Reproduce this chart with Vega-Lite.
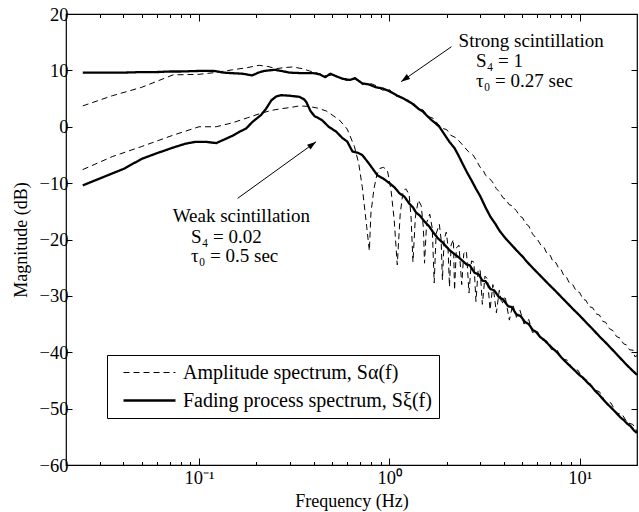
{
  "$schema": "https://vega.github.io/schema/vega-lite/v6.json",
  "width": 571,
  "height": 451,
  "autosize": {"type": "none"},
  "padding": {"left": 66, "top": 14, "right": 2, "bottom": 47},
  "background": "white",
  "config": {
    "font": "Liberation Serif",
    "view": {"stroke": "black", "strokeWidth": 1.2},
    "axis": {"domain": false, "grid": false, "labelFont": "Liberation Serif", "labelFontSize": 18.5, "labelColor": "black", "tickColor": "black", "tickWidth": 1, "titleFont": "Liberation Serif", "titleFontSize": 18, "titleFontWeight": "normal", "titleColor": "black", "labelOverlap": false, "labelFlush": false},
    "legend": {"labelFont": "Liberation Serif", "labelFontSize": 20, "labelColor": "black"}
  },
  "datasets": {
    "curves": [
      {"s":"SF","t":"F","f":0.0245,"v":9.6},{"s":"SF","t":"F","f":0.03,"v":9.6},{"s":"SF","t":"F","f":0.04,"v":9.6},{"s":"SF","t":"F","f":0.05,"v":9.7},{"s":"SF","t":"F","f":0.06,"v":9.7},{"s":"SF","t":"F","f":0.07,"v":9.8},{"s":"SF","t":"F","f":0.08,"v":9.8},{"s":"SF","t":"F","f":0.1,"v":9.9},{"s":"SF","t":"F","f":0.12,"v":9.9},{"s":"SF","t":"F","f":0.135,"v":9.6},{"s":"SF","t":"F","f":0.15,"v":9.5},{"s":"SF","t":"F","f":0.17,"v":9.4},{"s":"SF","t":"F","f":0.19,"v":9.1},{"s":"SF","t":"F","f":0.205,"v":9.6},{"s":"SF","t":"F","f":0.22,"v":9.9},{"s":"SF","t":"F","f":0.25,"v":10.1},{"s":"SF","t":"F","f":0.27,"v":9.9},{"s":"SF","t":"F","f":0.3,"v":9.6},{"s":"SF","t":"F","f":0.35,"v":9.5},{"s":"SF","t":"F","f":0.4,"v":9.5},{"s":"SF","t":"F","f":0.43,"v":9.3},{"s":"SF","t":"F","f":0.46,"v":8.8},{"s":"SF","t":"F","f":0.49,"v":9.4},{"s":"SF","t":"F","f":0.53,"v":8.9},{"s":"SF","t":"F","f":0.57,"v":8.5},{"s":"SF","t":"F","f":0.62,"v":8.3},{"s":"SF","t":"F","f":0.66,"v":8.6},{"s":"SF","t":"F","f":0.72,"v":7.7},{"s":"SF","t":"F","f":0.78,"v":7.5},{"s":"SF","t":"F","f":0.85,"v":7.0},{"s":"SF","t":"F","f":0.92,"v":6.8},{"s":"SF","t":"F","f":1.0,"v":6.3},{"s":"SF","t":"F","f":1.09,"v":5.6},{"s":"SF","t":"F","f":1.17,"v":5.1},{"s":"SF","t":"F","f":1.25,"v":4.6},{"s":"SF","t":"F","f":1.32,"v":4.1},{"s":"SF","t":"F","f":1.42,"v":3.2},{"s":"SF","t":"F","f":1.5,"v":2.7},{"s":"SF","t":"F","f":1.56,"v":2.1},{"s":"SF","t":"F","f":1.65,"v":1.3},{"s":"SF","t":"F","f":1.75,"v":0.6},{"s":"SF","t":"F","f":1.83,"v":0.0},{"s":"SF","t":"F","f":1.95,"v":-1.4},{"s":"SF","t":"F","f":2.07,"v":-2.7},{"s":"SF","t":"F","f":2.2,"v":-3.8},{"s":"SF","t":"F","f":2.3,"v":-5.0},{"s":"SF","t":"F","f":2.42,"v":-6.5},{"s":"SF","t":"F","f":2.55,"v":-8.0},{"s":"SF","t":"F","f":2.7,"v":-9.5},{"s":"SF","t":"F","f":2.85,"v":-11.0},{"s":"SF","t":"F","f":3.0,"v":-12.3},{"s":"SF","t":"F","f":3.2,"v":-14.3},{"s":"SF","t":"F","f":3.4,"v":-16.0},{"s":"SF","t":"F","f":3.6,"v":-17.2},{"s":"SF","t":"F","f":3.8,"v":-18.5},{"s":"SF","t":"F","f":4.1,"v":-19.9},{"s":"SF","t":"F","f":4.4,"v":-21.0},{"s":"SF","t":"F","f":4.65,"v":-21.9},{"s":"SF","t":"F","f":5.0,"v":-23.0},{"s":"SF","t":"F","f":5.3,"v":-24.0},{"s":"SF","t":"F","f":5.65,"v":-25.0},{"s":"SF","t":"F","f":6.0,"v":-25.9},{"s":"SF","t":"F","f":6.5,"v":-27.1},{"s":"SF","t":"F","f":6.9,"v":-28.0},{"s":"SF","t":"F","f":7.5,"v":-29.2},{"s":"SF","t":"F","f":8.0,"v":-30.2},{"s":"SF","t":"F","f":8.5,"v":-31.1},{"s":"SF","t":"F","f":9.2,"v":-32.3},{"s":"SF","t":"F","f":10,"v":-33.5},{"s":"SF","t":"F","f":10.8,"v":-34.7},{"s":"SF","t":"F","f":11.7,"v":-35.9},{"s":"SF","t":"F","f":12.7,"v":-37.2},{"s":"SF","t":"F","f":13.7,"v":-38.3},{"s":"SF","t":"F","f":15,"v":-39.7},{"s":"SF","t":"F","f":16.3,"v":-41.0},{"s":"SF","t":"F","f":17.6,"v":-42.2},{"s":"SF","t":"F","f":19,"v":-43.3},{"s":"SF","t":"F","f":20,"v":-44.0},

      {"s":"SA","t":"A","f":0.0245,"v":3.7},{"s":"SA","t":"A","f":0.035,"v":5.5},{"s":"SA","t":"A","f":0.05,"v":7.0},{"s":"SA","t":"A","f":0.073,"v":9.2},{"s":"SA","t":"A","f":0.1,"v":9.3},{"s":"SA","t":"A","f":0.12,"v":9.6},{"s":"SA","t":"A","f":0.15,"v":10.1},{"s":"SA","t":"A","f":0.18,"v":10.5},{"s":"SA","t":"A","f":0.207,"v":10.9},{"s":"SA","t":"A","f":0.23,"v":10.7},{"s":"SA","t":"A","f":0.254,"v":10.3},{"s":"SA","t":"A","f":0.28,"v":10.5},{"s":"SA","t":"A","f":0.31,"v":10.6},{"s":"SA","t":"A","f":0.35,"v":10.3},{"s":"SA","t":"A","f":0.38,"v":9.9},{"s":"SA","t":"A","f":0.42,"v":9.5},{"s":"SA","t":"A","f":0.466,"v":9.0},{"s":"SA","t":"A","f":0.5,"v":9.2},{"s":"SA","t":"A","f":0.55,"v":8.7},{"s":"SA","t":"A","f":0.6,"v":8.2},{"s":"SA","t":"A","f":0.66,"v":8.7},{"s":"SA","t":"A","f":0.72,"v":7.5},{"s":"SA","t":"A","f":0.78,"v":7.8},{"s":"SA","t":"A","f":0.85,"v":7.3},{"s":"SA","t":"A","f":0.92,"v":6.5},{"s":"SA","t":"A","f":1.0,"v":6.6},{"s":"SA","t":"A","f":1.09,"v":5.4},{"s":"SA","t":"A","f":1.17,"v":5.2},{"s":"SA","t":"A","f":1.25,"v":4.4},{"s":"SA","t":"A","f":1.32,"v":4.4},{"s":"SA","t":"A","f":1.42,"v":3.3},{"s":"SA","t":"A","f":1.5,"v":3.0},{"s":"SA","t":"A","f":1.6,"v":1.8},{"s":"SA","t":"A","f":1.7,"v":1.5},{"s":"SA","t":"A","f":1.8,"v":0.5},{"s":"SA","t":"A","f":1.9,"v":-0.3},{"s":"SA","t":"A","f":2.0,"v":-0.5},{"s":"SA","t":"A","f":2.1,"v":-1.5},{"s":"SA","t":"A","f":2.25,"v":-2.0},{"s":"SA","t":"A","f":2.42,"v":-3.2},{"s":"SA","t":"A","f":2.6,"v":-4.4},{"s":"SA","t":"A","f":2.75,"v":-5.0},{"s":"SA","t":"A","f":2.86,"v":-5.9},{"s":"SA","t":"A","f":3.0,"v":-7.2},{"s":"SA","t":"A","f":3.1,"v":-7.6},{"s":"SA","t":"A","f":3.2,"v":-8.6},{"s":"SA","t":"A","f":3.3,"v":-8.9},{"s":"SA","t":"A","f":3.48,"v":-9.8},{"s":"SA","t":"A","f":3.65,"v":-11.0},{"s":"SA","t":"A","f":3.8,"v":-11.6},{"s":"SA","t":"A","f":3.95,"v":-12.6},{"s":"SA","t":"A","f":4.1,"v":-12.9},{"s":"SA","t":"A","f":4.25,"v":-13.8},{"s":"SA","t":"A","f":4.4,"v":-14.0},{"s":"SA","t":"A","f":4.65,"v":-14.9},{"s":"SA","t":"A","f":4.85,"v":-15.9},{"s":"SA","t":"A","f":5.0,"v":-16.1},{"s":"SA","t":"A","f":5.2,"v":-17.2},{"s":"SA","t":"A","f":5.4,"v":-17.6},{"s":"SA","t":"A","f":5.65,"v":-19.0},{"s":"SA","t":"A","f":5.85,"v":-19.6},{"s":"SA","t":"A","f":6.0,"v":-20.0},{"s":"SA","t":"A","f":6.25,"v":-21.0},{"s":"SA","t":"A","f":6.5,"v":-21.4},{"s":"SA","t":"A","f":6.75,"v":-22.6},{"s":"SA","t":"A","f":7.0,"v":-22.8},{"s":"SA","t":"A","f":7.25,"v":-24.0},{"s":"SA","t":"A","f":7.5,"v":-24.1},{"s":"SA","t":"A","f":7.8,"v":-25.3},{"s":"SA","t":"A","f":8.0,"v":-25.4},{"s":"SA","t":"A","f":8.25,"v":-26.4},{"s":"SA","t":"A","f":8.5,"v":-26.6},{"s":"SA","t":"A","f":8.85,"v":-27.8},{"s":"SA","t":"A","f":9.2,"v":-28.0},{"s":"SA","t":"A","f":9.6,"v":-29.2},{"s":"SA","t":"A","f":10,"v":-29.4},{"s":"SA","t":"A","f":10.4,"v":-30.6},{"s":"SA","t":"A","f":10.8,"v":-30.8},{"s":"SA","t":"A","f":11.2,"v":-31.9},{"s":"SA","t":"A","f":11.7,"v":-32.1},{"s":"SA","t":"A","f":12.2,"v":-33.2},{"s":"SA","t":"A","f":12.7,"v":-33.4},{"s":"SA","t":"A","f":13.2,"v":-34.5},{"s":"SA","t":"A","f":13.7,"v":-34.7},{"s":"SA","t":"A","f":14.3,"v":-35.8},{"s":"SA","t":"A","f":15,"v":-36.2},{"s":"SA","t":"A","f":15.6,"v":-37.2},{"s":"SA","t":"A","f":16.3,"v":-37.5},{"s":"SA","t":"A","f":17,"v":-38.5},{"s":"SA","t":"A","f":17.6,"v":-38.7},{"s":"SA","t":"A","f":18.3,"v":-39.6},{"s":"SA","t":"A","f":19,"v":-39.6},{"s":"SA","t":"A","f":19.5,"v":-40.8},{"s":"SA","t":"A","f":20,"v":-40.6},

      {"s":"WF","t":"F","f":0.0245,"v":-10.4},{"s":"WF","t":"F","f":0.03,"v":-9.2},{"s":"WF","t":"F","f":0.04,"v":-7.5},{"s":"WF","t":"F","f":0.05,"v":-5.7},{"s":"WF","t":"F","f":0.06,"v":-4.7},{"s":"WF","t":"F","f":0.073,"v":-3.7},{"s":"WF","t":"F","f":0.085,"v":-3.0},{"s":"WF","t":"F","f":0.095,"v":-2.7},{"s":"WF","t":"F","f":0.11,"v":-2.7},{"s":"WF","t":"F","f":0.123,"v":-2.9},{"s":"WF","t":"F","f":0.135,"v":-2.3},{"s":"WF","t":"F","f":0.15,"v":-1.6},{"s":"WF","t":"F","f":0.163,"v":-0.9},{"s":"WF","t":"F","f":0.177,"v":-0.3},{"s":"WF","t":"F","f":0.19,"v":0.8},{"s":"WF","t":"F","f":0.212,"v":2.1},{"s":"WF","t":"F","f":0.225,"v":3.2},{"s":"WF","t":"F","f":0.24,"v":4.7},{"s":"WF","t":"F","f":0.255,"v":5.4},{"s":"WF","t":"F","f":0.27,"v":5.6},{"s":"WF","t":"F","f":0.3,"v":5.5},{"s":"WF","t":"F","f":0.337,"v":5.3},{"s":"WF","t":"F","f":0.355,"v":4.9},{"s":"WF","t":"F","f":0.366,"v":4.4},{"s":"WF","t":"F","f":0.385,"v":2.8},{"s":"WF","t":"F","f":0.404,"v":1.9},{"s":"WF","t":"F","f":0.425,"v":1.5},{"s":"WF","t":"F","f":0.445,"v":1.1},{"s":"WF","t":"F","f":0.48,"v":0.0},{"s":"WF","t":"F","f":0.527,"v":-0.9},{"s":"WF","t":"F","f":0.566,"v":-2.0},{"s":"WF","t":"F","f":0.6,"v":-2.6},{"s":"WF","t":"F","f":0.64,"v":-4.4},{"s":"WF","t":"F","f":0.68,"v":-4.6},{"s":"WF","t":"F","f":0.72,"v":-5.0},{"s":"WF","t":"F","f":0.78,"v":-6.5},{"s":"WF","t":"F","f":0.865,"v":-8.6},{"s":"WF","t":"F","f":0.93,"v":-9.2},{"s":"WF","t":"F","f":1.0,"v":-10.0},{"s":"WF","t":"F","f":1.06,"v":-10.7},{"s":"WF","t":"F","f":1.13,"v":-11.8},{"s":"WF","t":"F","f":1.2,"v":-12.4},{"s":"WF","t":"F","f":1.27,"v":-13.6},{"s":"WF","t":"F","f":1.33,"v":-14.3},{"s":"WF","t":"F","f":1.38,"v":-15.2},{"s":"WF","t":"F","f":1.45,"v":-15.8},{"s":"WF","t":"F","f":1.52,"v":-16.7},{"s":"WF","t":"F","f":1.62,"v":-17.7},{"s":"WF","t":"F","f":1.69,"v":-18.6},{"s":"WF","t":"F","f":1.8,"v":-19.8},{"s":"WF","t":"F","f":1.9,"v":-20.5},{"s":"WF","t":"F","f":2.07,"v":-21.9},{"s":"WF","t":"F","f":2.3,"v":-23.1},{"s":"WF","t":"F","f":2.54,"v":-24.4},{"s":"WF","t":"F","f":2.65,"v":-24.6},{"s":"WF","t":"F","f":2.8,"v":-25.9},{"s":"WF","t":"F","f":2.95,"v":-26.2},{"s":"WF","t":"F","f":3.08,"v":-27.3},{"s":"WF","t":"F","f":3.2,"v":-27.4},{"s":"WF","t":"F","f":3.4,"v":-28.8},{"s":"WF","t":"F","f":3.55,"v":-29.0},{"s":"WF","t":"F","f":3.78,"v":-30.3},{"s":"WF","t":"F","f":3.95,"v":-30.6},{"s":"WF","t":"F","f":4.2,"v":-31.8},{"s":"WF","t":"F","f":4.4,"v":-32.0},{"s":"WF","t":"F","f":4.65,"v":-33.3},{"s":"WF","t":"F","f":4.9,"v":-33.6},{"s":"WF","t":"F","f":5.15,"v":-34.6},{"s":"WF","t":"F","f":5.4,"v":-35.0},{"s":"WF","t":"F","f":5.65,"v":-36.0},{"s":"WF","t":"F","f":5.9,"v":-36.4},{"s":"WF","t":"F","f":6.2,"v":-37.3},{"s":"WF","t":"F","f":6.5,"v":-37.8},{"s":"WF","t":"F","f":6.9,"v":-38.7},{"s":"WF","t":"F","f":7.2,"v":-39.3},{"s":"WF","t":"F","f":7.6,"v":-40.0},{"s":"WF","t":"F","f":8.0,"v":-40.9},{"s":"WF","t":"F","f":8.5,"v":-41.8},{"s":"WF","t":"F","f":9.0,"v":-42.6},{"s":"WF","t":"F","f":9.4,"v":-43.2},{"s":"WF","t":"F","f":10,"v":-44.1},{"s":"WF","t":"F","f":10.4,"v":-44.5},{"s":"WF","t":"F","f":11,"v":-45.4},{"s":"WF","t":"F","f":11.5,"v":-46.0},{"s":"WF","t":"F","f":12.1,"v":-46.9},{"s":"WF","t":"F","f":12.7,"v":-47.6},{"s":"WF","t":"F","f":13.3,"v":-48.4},{"s":"WF","t":"F","f":14,"v":-49.2},{"s":"WF","t":"F","f":14.8,"v":-50.0},{"s":"WF","t":"F","f":15.5,"v":-50.7},{"s":"WF","t":"F","f":16.3,"v":-51.5},{"s":"WF","t":"F","f":17,"v":-52.0},{"s":"WF","t":"F","f":17.8,"v":-52.7},{"s":"WF","t":"F","f":18.5,"v":-53.1},{"s":"WF","t":"F","f":19.3,"v":-53.9},{"s":"WF","t":"F","f":20,"v":-54.3},

      {"s":"WA","t":"A","f":0.0245,"v":-7.6},{"s":"WA","t":"A","f":0.035,"v":-5.3},{"s":"WA","t":"A","f":0.05,"v":-3.5},{"s":"WA","t":"A","f":0.073,"v":-1.5},{"s":"WA","t":"A","f":0.1,"v":0.0},{"s":"WA","t":"A","f":0.123,"v":0.0},{"s":"WA","t":"A","f":0.15,"v":0.7},{"s":"WA","t":"A","f":0.18,"v":1.6},{"s":"WA","t":"A","f":0.212,"v":2.4},{"s":"WA","t":"A","f":0.24,"v":2.9},{"s":"WA","t":"A","f":0.27,"v":3.2},{"s":"WA","t":"A","f":0.3,"v":3.4},{"s":"WA","t":"A","f":0.337,"v":3.7},{"s":"WA","t":"A","f":0.38,"v":3.6},{"s":"WA","t":"A","f":0.42,"v":3.3},{"s":"WA","t":"A","f":0.466,"v":2.8},{"s":"WA","t":"A","f":0.5,"v":2.1},{"s":"WA","t":"A","f":0.546,"v":1.2},{"s":"WA","t":"A","f":0.6,"v":-0.4},{"s":"WA","t":"A","f":0.655,"v":-3.5},{"s":"WA","t":"A","f":0.69,"v":-6.5},{"s":"WA","t":"A","f":0.72,"v":-10.6},{"s":"WA","t":"A","f":0.76,"v":-17.7},{"s":"WA","t":"A","f":0.785,"v":-22.0},{"s":"WA","t":"A","f":0.8,"v":-15.3},{"s":"WA","t":"A","f":0.83,"v":-11.0},{"s":"WA","t":"A","f":0.86,"v":-8.5},{"s":"WA","t":"A","f":0.89,"v":-7.4},{"s":"WA","t":"A","f":0.93,"v":-7.2},{"s":"WA","t":"A","f":0.976,"v":-7.7},{"s":"WA","t":"A","f":1.02,"v":-11.2},{"s":"WA","t":"A","f":1.06,"v":-16.5},{"s":"WA","t":"A","f":1.1,"v":-24.5},{"s":"WA","t":"A","f":1.14,"v":-15.5},{"s":"WA","t":"A","f":1.18,"v":-11.5},{"s":"WA","t":"A","f":1.22,"v":-11.0},{"s":"WA","t":"A","f":1.27,"v":-12.0},{"s":"WA","t":"A","f":1.3,"v":-16.0},{"s":"WA","t":"A","f":1.33,"v":-24.0},{"s":"WA","t":"A","f":1.37,"v":-16.0},{"s":"WA","t":"A","f":1.42,"v":-13.0},{"s":"WA","t":"A","f":1.47,"v":-14.0},{"s":"WA","t":"A","f":1.51,"v":-18.0},{"s":"WA","t":"A","f":1.53,"v":-24.2},{"s":"WA","t":"A","f":1.57,"v":-17.0},{"s":"WA","t":"A","f":1.63,"v":-15.5},{"s":"WA","t":"A","f":1.68,"v":-18.0},{"s":"WA","t":"A","f":1.72,"v":-27.7},{"s":"WA","t":"A","f":1.76,"v":-19.0},{"s":"WA","t":"A","f":1.83,"v":-17.3},{"s":"WA","t":"A","f":1.87,"v":-20.0},{"s":"WA","t":"A","f":1.9,"v":-27.2},{"s":"WA","t":"A","f":1.94,"v":-20.0},{"s":"WA","t":"A","f":1.99,"v":-18.7},{"s":"WA","t":"A","f":2.03,"v":-21.0},{"s":"WA","t":"A","f":2.07,"v":-28.4},{"s":"WA","t":"A","f":2.11,"v":-21.0},{"s":"WA","t":"A","f":2.17,"v":-20.0},{"s":"WA","t":"A","f":2.2,"v":-29.0},{"s":"WA","t":"A","f":2.25,"v":-21.5},{"s":"WA","t":"A","f":2.32,"v":-21.0},{"s":"WA","t":"A","f":2.4,"v":-28.0},{"s":"WA","t":"A","f":2.46,"v":-22.5},{"s":"WA","t":"A","f":2.54,"v":-22.0},{"s":"WA","t":"A","f":2.62,"v":-29.5},{"s":"WA","t":"A","f":2.7,"v":-23.8},{"s":"WA","t":"A","f":2.78,"v":-24.0},{"s":"WA","t":"A","f":2.85,"v":-31.0},{"s":"WA","t":"A","f":2.93,"v":-25.2},{"s":"WA","t":"A","f":3.0,"v":-25.5},{"s":"WA","t":"A","f":3.08,"v":-31.5},{"s":"WA","t":"A","f":3.18,"v":-26.5},{"s":"WA","t":"A","f":3.28,"v":-27.0},{"s":"WA","t":"A","f":3.38,"v":-32.5},{"s":"WA","t":"A","f":3.5,"v":-28.0},{"s":"WA","t":"A","f":3.65,"v":-33.0},{"s":"WA","t":"A","f":3.78,"v":-29.0},{"s":"WA","t":"A","f":3.9,"v":-31.5},{"s":"WA","t":"A","f":4.05,"v":-30.0},{"s":"WA","t":"A","f":4.27,"v":-34.3},{"s":"WA","t":"A","f":4.45,"v":-31.5},{"s":"WA","t":"A","f":4.65,"v":-33.8},{"s":"WA","t":"A","f":4.85,"v":-32.5},{"s":"WA","t":"A","f":5.1,"v":-35.0},{"s":"WA","t":"A","f":5.4,"v":-34.2},{"s":"WA","t":"A","f":5.65,"v":-36.5},{"s":"WA","t":"A","f":6.0,"v":-36.3},{"s":"WA","t":"A","f":6.3,"v":-37.8},{"s":"WA","t":"A","f":6.7,"v":-38.0},{"s":"WA","t":"A","f":7.1,"v":-39.5},{"s":"WA","t":"A","f":7.6,"v":-39.6},{"s":"WA","t":"A","f":8.1,"v":-41.2},{"s":"WA","t":"A","f":8.6,"v":-41.4},{"s":"WA","t":"A","f":9.2,"v":-43.0},{"s":"WA","t":"A","f":9.8,"v":-43.2},{"s":"WA","t":"A","f":10.4,"v":-44.8},{"s":"WA","t":"A","f":11.1,"v":-45.0},{"s":"WA","t":"A","f":11.8,"v":-46.6},{"s":"WA","t":"A","f":12.7,"v":-47.0},{"s":"WA","t":"A","f":13.6,"v":-48.7},{"s":"WA","t":"A","f":14.6,"v":-49.0},{"s":"WA","t":"A","f":15.6,"v":-50.8},{"s":"WA","t":"A","f":16.7,"v":-51.0},{"s":"WA","t":"A","f":17.8,"v":-52.5},{"s":"WA","t":"A","f":19,"v":-52.8},{"s":"WA","t":"A","f":20,"v":-54.0}
    ],
    "notes": [
      {"f": 2.31, "v": 14.18, "txt": "Strong scintillation"},
      {"f": 2.855, "v": 10.64, "txt": "S₄ = 1"},
      {"f": 2.855, "v": 7.09, "txt": "τ₀ = 0.27 sec"},
      {"f": 0.0727, "v": -16.84, "txt": "Weak scintillation"},
      {"f": 0.0908, "v": -20.57, "txt": "S₄ = 0.02"},
      {"f": 0.0908, "v": -24.0, "txt": "τ₀ = 0.5 sec"}
    ],
    "arrows": [
      {"id": "strong", "f": 2.12, "v": 14.2, "f2": 1.152, "v2": 8.0},
      {"id": "weak", "f": 0.1595, "v": -12.7, "f2": 0.412, "v2": -2.66}
    ]
  },
  "layer": [
    {
      "data": {"name": "curves"},
      "mark": {"type": "line", "color": "black", "strokeJoin": "round"},
      "encoding": {
        "x": {"field": "f", "type": "quantitative", "scale": {"type": "log", "domain": [0.02, 20], "nice": false},
          "axis": {"orient": "bottom", "values": [0.03,0.04,0.05,0.06,0.07,0.08,0.09,0.1,0.2,0.3,0.4,0.5,0.6,0.7,0.8,0.9,1,2,3,4,5,6,7,8,9,10],
            "labelExpr": "datum.value == 0.1 ? '10⁻¹' : datum.value == 1 ? '10⁰' : datum.value == 10 ? '10¹' : ''",
            "tickSize": {"condition": {"test": "datum.value == 0.1 || datum.value == 1 || datum.value == 10", "value": -7}, "value": -3.5},
            "labelPadding": 10, "title": "Frequency (Hz)", "titleX": 285.5, "titleY": 41, "titleBaseline": "alphabetic", "titleAlign": "center"}},
        "y": {"field": "v", "type": "quantitative", "scale": {"domain": [-60, 20], "nice": false},
          "axis": {"orient": "left", "values": [-60,-50,-40,-30,-20,-10,0,10,20], "tickSize": -6, "labelPadding": 4,
            "title": "Magnitude (dB)", "titleX": -40, "titleY": 225.5, "titleBaseline": "alphabetic", "titleAlign": "center", "titleAngle": -90}},
        "detail": {"field": "s", "type": "nominal"},
        "strokeDash": {"field": "t", "type": "nominal", "scale": {"domain": ["A", "F"], "range": [[6, 4], [1, 0]]},
          "legend": {"title": null, "orient": "none", "legendX": 41, "legendY": 341, "strokeColor": "black", "fillColor": "white", "padding": 7,
            "symbolType": "M-2.6,0H2.6", "symbolSize": 400, "symbolOffset": 24, "labelOffset": 22, "rowPadding": 6, "symbolStrokeColor": "black", "labelLimit": 500,
            "labelExpr": "datum.label == 'A' ? 'Amplitude spectrum, Sα(f)' : 'Fading process spectrum, Sξ(f)\u2002'"}},
        "strokeWidth": {"field": "t", "type": "nominal", "scale": {"domain": ["A", "F"], "range": [1, 2.3]},
          "legend": {"title": null, "orient": "none", "legendX": 41, "legendY": 341, "strokeColor": "black", "fillColor": "white", "padding": 7,
            "symbolType": "M-2.6,0H2.6", "symbolSize": 400, "symbolOffset": 24, "labelOffset": 22, "rowPadding": 6, "symbolStrokeColor": "black", "labelLimit": 500,
            "labelExpr": "datum.label == 'A' ? 'Amplitude spectrum, Sα(f)' : 'Fading process spectrum, Sξ(f)\u2002'"}}
      }
    },
    {
      "data": {"name": "arrows"},
      "mark": {"type": "rule", "color": "black", "strokeWidth": 1},
      "encoding": {
        "x": {"field": "f", "type": "quantitative", "scale": {"type": "log", "domain": [0.02, 20], "nice": false},
          "axis": {"orient": "top", "values": [0.03,0.04,0.05,0.06,0.07,0.08,0.09,0.1,0.2,0.3,0.4,0.5,0.6,0.7,0.8,0.9,1,2,3,4,5,6,7,8,9,10],
            "labels": false, "title": null,
            "tickSize": {"condition": {"test": "datum.value == 0.1 || datum.value == 1 || datum.value == 10", "value": -7}, "value": -3.5}}},
        "x2": {"field": "f2"},
        "y": {"field": "v", "type": "quantitative", "scale": {"domain": [-60, 20], "nice": false},
          "axis": {"orient": "right", "values": [-60,-50,-40,-30,-20,-10,0,10,20], "tickSize": -6, "labels": false, "title": null}},
        "y2": {"field": "v2"}
      }
    },
    {
      "data": {"name": "arrows"},
      "transform": [{"filter": "datum.id == 'strong'"}],
      "mark": {"type": "point", "shape": "M0,0L0.33,1L-0.33,1Z", "filled": true, "color": "black", "opacity": 1, "size": 324, "angle": 235},
      "encoding": {
        "x": {"field": "f2", "type": "quantitative", "scale": {"type": "log", "domain": [0.02, 20], "nice": false}, "axis": null},
        "y": {"field": "v2", "type": "quantitative", "scale": {"domain": [-60, 20], "nice": false}, "axis": null}
      }
    },
    {
      "data": {"name": "arrows"},
      "transform": [{"filter": "datum.id == 'weak'"}],
      "mark": {"type": "point", "shape": "M0,0L0.33,1L-0.33,1Z", "filled": true, "color": "black", "opacity": 1, "size": 324, "angle": 54},
      "encoding": {
        "x": {"field": "f2", "type": "quantitative", "scale": {"type": "log", "domain": [0.02, 20], "nice": false}, "axis": null},
        "y": {"field": "v2", "type": "quantitative", "scale": {"domain": [-60, 20], "nice": false}, "axis": null}
      }
    },
    {
      "data": {"name": "notes"},
      "mark": {"type": "text", "align": "left", "baseline": "alphabetic", "font": "Liberation Serif", "fontSize": 19, "color": "black"},
      "encoding": {
        "x": {"field": "f", "type": "quantitative", "scale": {"type": "log", "domain": [0.02, 20], "nice": false}, "axis": null},
        "y": {"field": "v", "type": "quantitative", "scale": {"domain": [-60, 20], "nice": false}, "axis": null},
        "text": {"field": "txt"}
      }
    }
  ],
  "resolve": {"axis": {"x": "independent", "y": "independent"}}
}
